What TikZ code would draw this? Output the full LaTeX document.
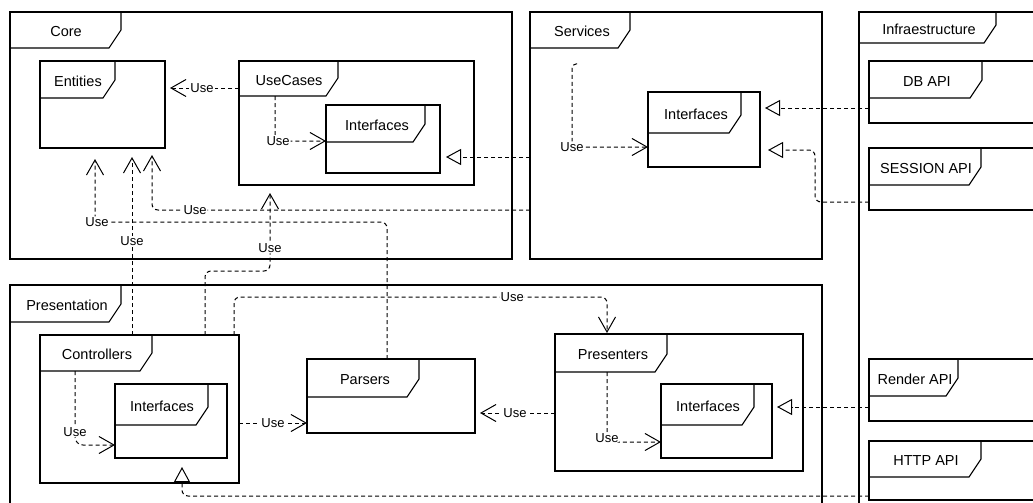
\documentclass[tikz,border=0pt]{standalone}
\usepackage{fontspec}
\setmainfont{Liberation Sans}
\usetikzlibrary{arrows.meta}
\tikzset{
 pkgnode/.style={draw, line width=1.1pt, fill=white, inner sep=0pt, outer sep=0pt},
 pkgline/.style={line width=1.1pt},
 pkgtitle/.style={font=\fontsize{14.5}{16}\selectfont, inner sep=0pt, text height=10.4pt, text depth=0pt},
 dep/.style={line width=1pt, dash pattern=on 4pt off 3pt, -{Straight Barb[length=15pt,width=17pt,line width=1pt]}},
 real/.style={line width=1pt, dash pattern=on 4pt off 3pt, -{Triangle[open,length=15pt,width=16pt,fill=white,line width=1pt]}},
 uselbl/.style={fill=white, inner sep=1pt, font=\fontsize{13}{14}\selectfont},
}
% name, x0, y0, x1, y1, tab right x, tab bottom y, title x, title
\newcommand\pkgbox[9]{%
  \node[pkgnode, minimum width={#4-#2}, minimum height={#5-#3}] (#1) at ({(#2+#4)/2},{(#3+#5)/2}) {};
  \coordinate (#1-tab) at (#2,#7);
  \draw[pkgline] (#2,#7) -- ({#6-12},#7) -- (#6,{#7-18}) -- (#6,#3);
  \node[pkgtitle] (#1-title) at (#8,{(#3+#7)/2+1.5}) {#9};
}
\begin{document}
\begin{tikzpicture}[x=1pt,y=-1pt]
\clip (0,0) rectangle (1033,503);
\fill[white] (0,0) rectangle (1033,503);
% packages
\pkgbox{core}{10}{12}{512}{259}{121}{48}{66}{Core}
\pkgbox{entities}{40}{61}{165}{148}{115}{98}{78}{Entities}
\pkgbox{usecases}{239}{61}{474}{185}{338}{96}{289}{UseCases}
\pkgbox{ucif}{326}{105}{440}{173}{425}{142}{377}{Interfaces}
\pkgbox{services}{530}{12}{822}{259}{630}{48}{582}{Services}
\pkgbox{svif}{648}{92}{760}{167}{741}{133}{696}{Interfaces}
\pkgbox{infra}{859}{12}{1060}{520}{996}{43}{929}{Infraestructure}
\pkgbox{dbapi}{869}{61}{1060}{123}{982}{98}{927}{DB API}
\pkgbox{session}{869}{148}{1060}{210}{981}{185}{926}{SESSION API}
\pkgbox{presentation}{10}{285}{822}{520}{121}{322}{67}{Presentation}
\pkgbox{controllers}{40}{335}{239}{483}{152}{371}{97}{Controllers}
\pkgbox{ctrlif}{115}{384}{227}{458}{208}{425}{162}{Interfaces}
\pkgbox{parsers}{307}{359}{475}{433}{419}{397}{365}{Parsers}
\pkgbox{presenters}{555}{334}{803}{471}{667}{372}{613}{Presenters}
\pkgbox{presif}{661}{384}{772}{458}{754}{425}{708}{Interfaces}
\pkgbox{render}{869}{359}{1060}{421}{958}{396}{915}{Render API}
\pkgbox{http}{869}{441}{1060}{500}{981}{477}{926}{HTTP API}
% connectors
\draw[dep, shorten >=5pt] (usecases.west |- 0,88) -- node[uselbl]{Use} (entities.east |- 0,88);
\draw[dep, rounded corners=5pt] (usecases-tab -| 275,0) |- node[uselbl,pos=0.53]{Use} (ucif.west |- 0,141);
\draw[real, shorten >=6pt] (services.west |- 0,157) -- (ucif.east |- 0,157);
\coordinate (svsrc) at (577,64);
\draw[dep, rounded corners=4pt] (svsrc) -| node[uselbl,pos=1]{Use} (572,147) -- (svif.west |- 0,147);
\draw[real, shorten >=5pt] (dbapi.west |- 0,108) -- (svif.east |- 0,108);
\draw[real, rounded corners=6pt, shorten >=8pt] (session.west |- 0,202) -| (815,150) -- (svif.east |- 0,150);
\draw[dep, rounded corners=6pt, shorten >=7pt] (services.west |- 0,210) -| node[uselbl,pos=0.443]{Use} (entities.south -| 152,0);
\draw[dep, shorten >=9pt] (controllers.north -| 132,0) -- node[uselbl]{Use} (entities.south -| 132,0);
\draw[dep, rounded corners=6pt, shorten >=8pt] (controllers.north -| 205,0) |- (270,271) -- node[uselbl,pos=0.27]{Use} (usecases.south -| 270,0);
\draw[dep, rounded corners=6pt, shorten >=11pt] (parsers.north -| 387,0) |- (95,222) -- node[uselbl,pos=0,xshift=2pt]{Use} (entities.south -| 95,0);
\draw[dep, rounded corners=6pt, shorten >=1pt] (controllers.north -| 234,0) |- node[uselbl,pos=0.873]{Use} (607,297) -- (presenters.north -| 607,0);
\draw[dep, rounded corners=8pt] (controllers-tab -| 75,0) |- node[uselbl,pos=0.41]{Use} (ctrlif.west |- 0,445);
\draw[dep] (controllers.east |- 0,423) -- node[uselbl]{Use} (parsers.west |- 0,423);
\draw[dep, shorten >=5pt] (presenters.west |- 0,413) -- node[uselbl]{Use} (parsers.east |- 0,413);
\draw[dep, rounded corners=4pt] (presenters-tab -| 607,0) |- node[uselbl,pos=0.47]{Use} (presif.west |- 0,442);
\draw[real, shorten >=5pt] (render.west |- 0,407) -- (presif.east |- 0,407);
\draw[real, rounded corners=6pt, shorten >=9pt] (http.west |- 0,496) -| (ctrlif.south -| 182,0);
\end{tikzpicture}
\end{document}
